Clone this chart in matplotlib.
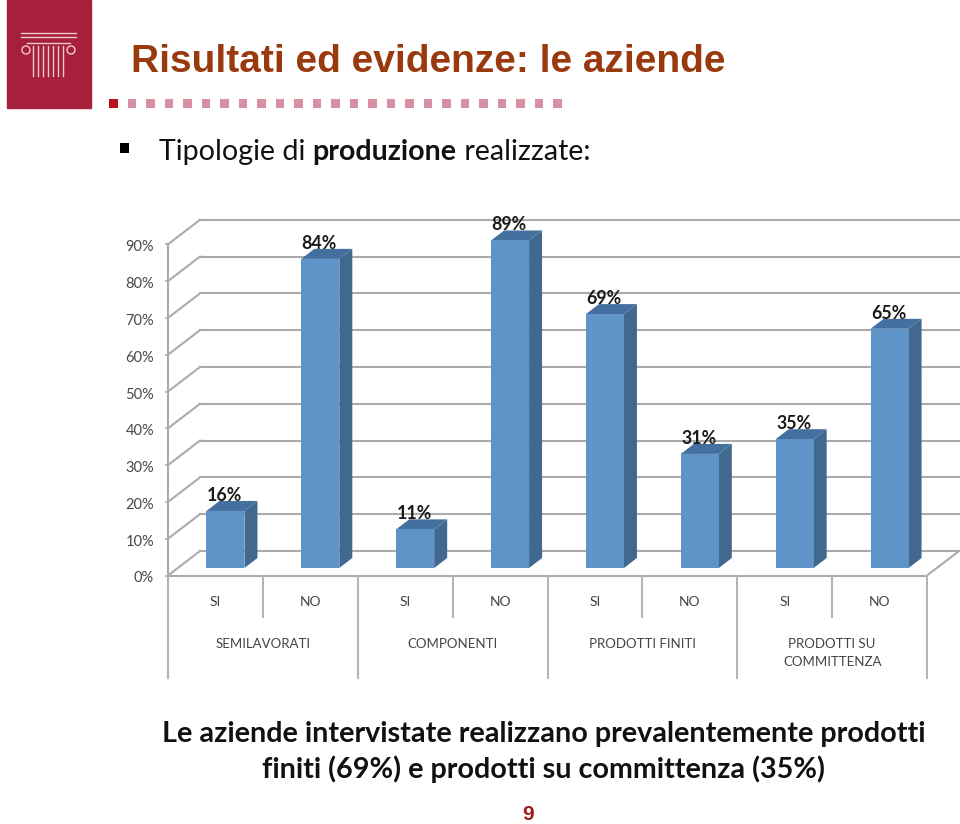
import matplotlib
matplotlib.use('Agg')
import matplotlib.pyplot as plt
from matplotlib.patches import Polygon, Rectangle, Circle

plt.rcParams['font.family'] = ['Lato', 'DejaVu Sans']

answers = ['SI', 'NO', 'SI', 'NO', 'SI', 'NO', 'SI', 'NO']
labels = ['16%', '84%', '11%', '89%', '69%', '31%', '35%', '65%']
values = [15.5, 84, 10.5, 89, 69, 31, 35, 65]
groups = ['SEMILAVORATI', 'COMPONENTI', 'PRODOTTI FINITI', 'PRODOTTI SU\nCOMMITTENZA']
y_ticks = [0, 10, 20, 30, 40, 50, 60, 70, 80, 90]

W, H = 960, 824
fig = plt.figure(figsize=(W / 100, H / 100), dpi=100)

# slide background in pixel coords
bg = fig.add_axes([0, 0, 1, 1])
bg.set_xlim(0, W)
bg.set_ylim(H, 0)
bg.axis('off')

bg.add_patch(Rectangle((7, 0), 84, 108, color='#a61f3b'))
for y, x0, x1 in [(33, 21, 76), (37, 21, 76), (43, 27, 70)]:
    bg.plot([x0, x1], [y, y], color='#f0c8cf', lw=1)
for x in [33, 38, 43, 48, 53, 58, 63]:
    bg.plot([x, x], [46, 76], color='#f0c8cf', lw=1)
for x in [26, 71]:
    bg.add_patch(Circle((x, 50), 4, fill=False, ec='#f0c8cf', lw=1))

for i in range(25):
    c = '#b8101f' if i == 0 else '#d6909f'
    bg.add_patch(Rectangle((109 + i * 18.5, 99), 8.5, 9, color=c, lw=0))

bg.text(131, 62, 'Risultati ed evidenze: le aziende', fontsize=28, fontweight='bold',
        family='Liberation Sans', color='#993a0e', va='center', ha='left')
bg.add_patch(Rectangle((120, 143), 9, 10, color='black', lw=0))
t1 = bg.text(159, 152, 'Tipologie di ', fontsize=20.6, va='center', ha='left', color='#111111')
t2 = bg.annotate('produzione', xy=(1, 0.5), xycoords=t1, xytext=(0, 0), textcoords='offset points',
                 fontsize=20.6, fontweight='bold', va='center', ha='left', color='#111111')
bg.annotate(' realizzate:', xy=(1, 0.5), xycoords=t2, xytext=(0, 0), textcoords='offset points',
            fontsize=20.6, va='center', ha='left', color='#111111')

bg.text(544, 734, 'Le aziende intervistate realizzano prevalentemente prodotti', fontsize=20.7,
        fontweight='bold', ha='center', va='center', color='#111111')
bg.text(544, 769, 'finiti (69%) e prodotti su committenza (35%)', fontsize=20.7,
        fontweight='bold', ha='center', va='center', color='#111111')
bg.text(528, 815, '9', fontsize=15, fontweight='bold', family='Liberation Sans',
        ha='center', va='center', color='#a01c1c')

# chart axes: x in categories, y in percent, placed on the plane of the bars
left, right, base, per10 = 178, 937, 568, 36.8
ax = fig.add_axes([left / W, 1 - base / H, (right - left) / W, per10 * 9 / H])
ax.set_xlim(0, 8)
ax.set_ylim(0, 90)
ax.axis('off')
px = 8 / (right - left)
py = 10 / per10

grid = '#ababab'
# walls and floor, offset from the bar plane
fx, fy = -10 * px, -7.5 * py   # front
bx, by = 22 * px, 17 * py      # back
for v in y_ticks:
    ax.plot([fx, bx], [v + fy, v + by], color=grid, lw=1.5, clip_on=False, zorder=1)
    ax.plot([bx, 8 + bx], [v + by, v + by], color=grid, lw=1.5, clip_on=False, zorder=1)
    ax.plot([fx - 2 * px, fx], [v + fy, v + fy], color=grid, lw=1.2, clip_on=False, zorder=1)
    ax.text(fx - 14 * px, v + fy - 3 * py, f'{v}%', ha='right', va='center', fontsize=10.5,
            color='#484848', clip_on=False)
ax.plot([fx, fx], [fy, 90 + fy], color=grid, lw=1.5, clip_on=False, zorder=1)
ax.plot([fx, 8 + fx], [fy, fy], color=grid, lw=1.5, clip_on=False, zorder=1)
ax.plot([8 + fx, 8 + bx], [fy, by], color=grid, lw=1.5, clip_on=False, zorder=1)

# 3d bars
w = 38 * px
dx, dy = 13 * px, 10 * py
for i, v in enumerate(values):
    x0 = i + 0.5 - w / 2
    x1 = x0 + w
    ax.add_patch(Polygon([(x1, 0), (x1 + dx, dy), (x1 + dx, v + dy), (x1, v)],
                         fc='#41688f', ec='none', zorder=3, clip_on=False))
    ax.add_patch(Polygon([(x0, v), (x1, v), (x1 + dx, v + dy), (x0 + dx, v + dy)],
                         fc='#44709f', ec='none', zorder=3, clip_on=False))
    ax.add_patch(Rectangle((x0, 0), w, v, fc='#5f94c9', ec='none', zorder=4))
    ax.text(i + 0.5 - 1 * px, v + 7 * py, labels[i], ha='center', va='bottom', fontsize=12.8,
            fontweight='bold', color='#1a1a1a', clip_on=False, zorder=5)

# multi level category axis under the floor
sep = '#b5b5b5'
for i, a in enumerate(answers):
    ax.text(i + 0.5 + fx, -34 * py, a, ha='center', va='center', fontsize=10,
            color='#444444', clip_on=False)
for i in range(9):
    low = 110 if i % 2 == 0 else 49
    ax.plot([i + fx, i + fx], [fy, -low * py], color=sep, lw=1.5, clip_on=False)
for i, g in enumerate(groups):
    ypos = -76 * py if '\n' not in g else -85 * py
    ax.text(2 * i + 1 + fx, ypos, g, ha='center', va='center', fontsize=9.5, linespacing=1.5,
            color='#444444', clip_on=False)

fig.savefig('out.png', dpi=100)
